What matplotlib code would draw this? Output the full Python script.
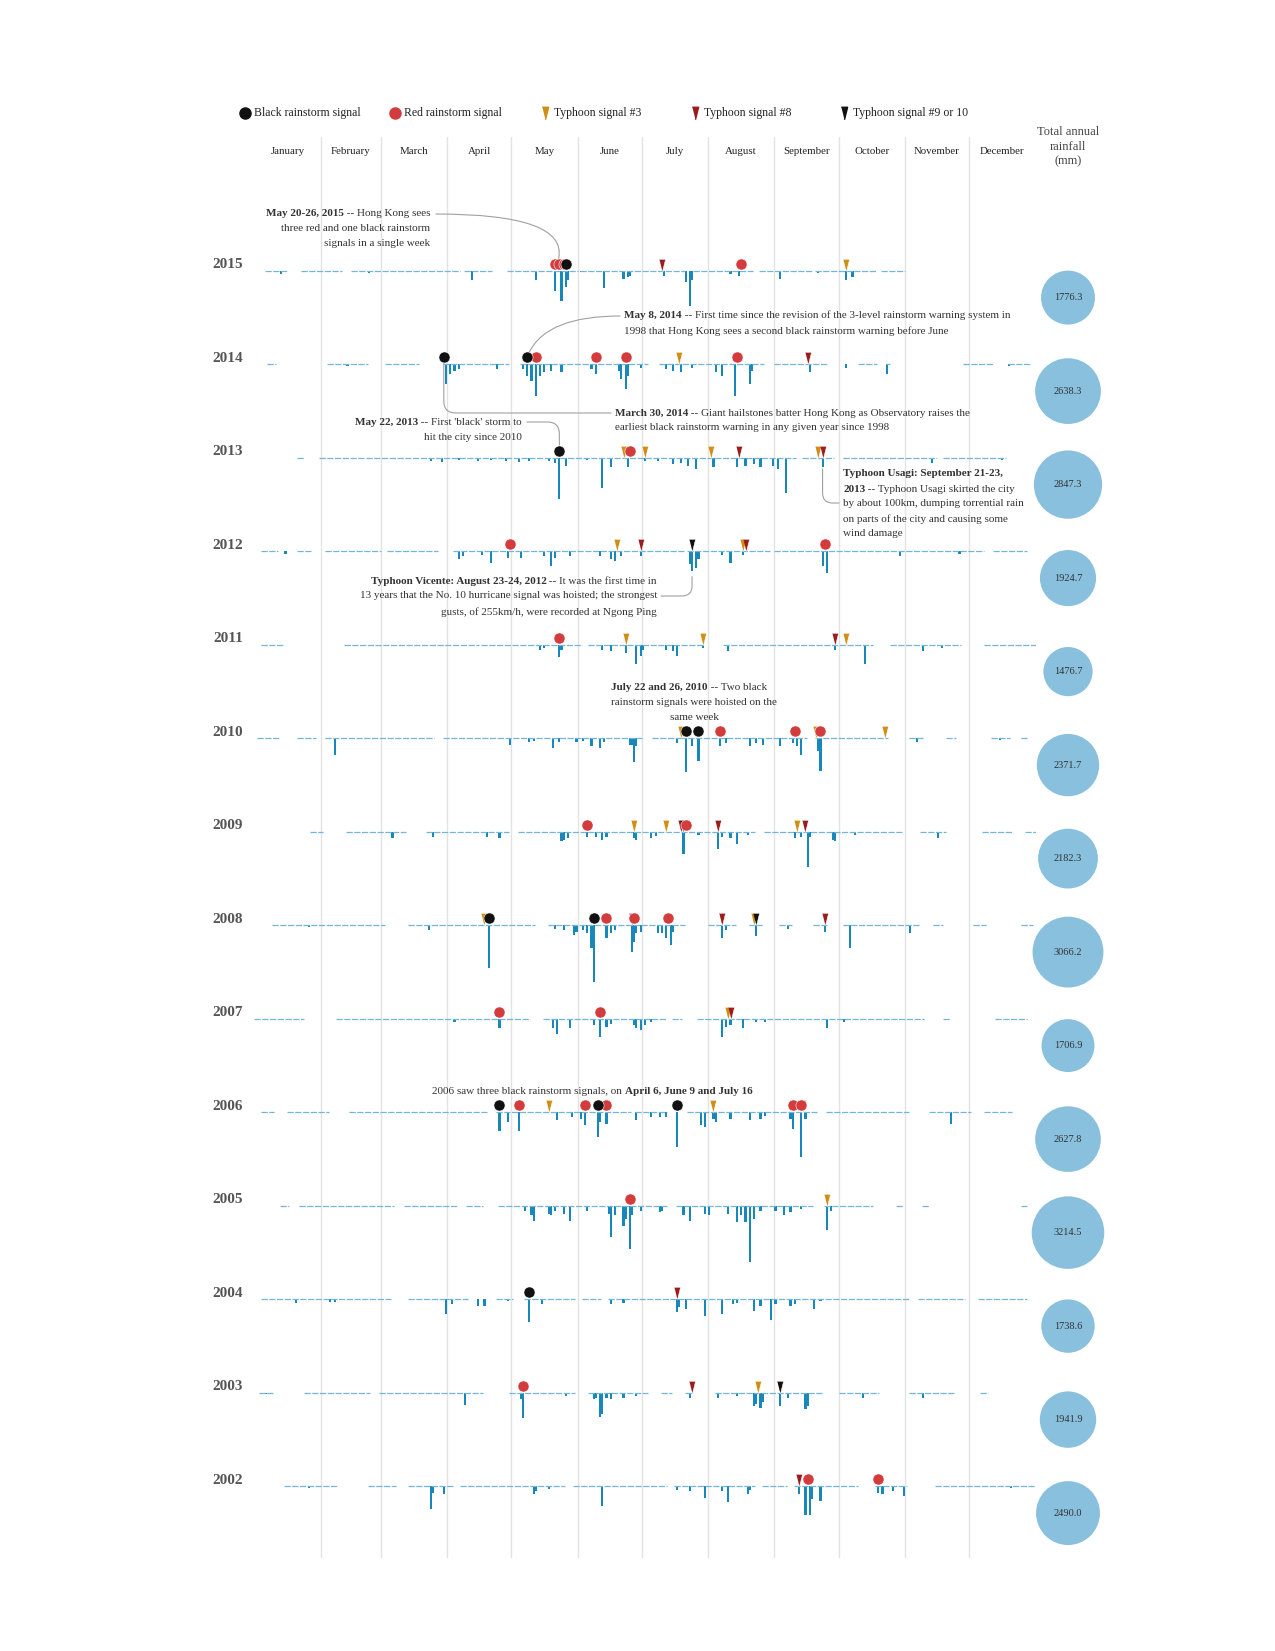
import matplotlib
matplotlib.use('Agg')
import matplotlib.pyplot as plt
import numpy as np
import pandas as pd
from matplotlib.transforms import blended_transform_factory

plt.rcParams['font.family'] = ['Liberation Serif', 'DejaVu Serif']

# Years, top to bottom, and total annual rainfall (mm)
years = [2015, 2014, 2013, 2012, 2011, 2010, 2009, 2008, 2007, 2006, 2005, 2004, 2003, 2002]
annual_total = [1776.3, 2638.3, 2847.3, 1924.7, 1476.7, 2371.7, 2182.3,
                3066.2, 1706.9, 2627.8, 3214.5, 1738.6, 1941.9, 2490.0]

months = ['January', 'February', 'March', 'April', 'May', 'June', 'July',
          'August', 'September', 'October', 'November', 'December']

# Daily rainfall: (day of year, 0 = Jan 1, mm)
daily_rain = {
    2015: [(12, 18), (53, 14), (86, 9), (101, 52), (131, 52), (140, 105), (143, 161), (145, 88),
           (146, 52), (152, 9), (163, 91), (172, 44), (174, 35), (175, 26), (191, 26), (201, 61),
           (203, 184), (204, 52), (222, 18), (226, 26), (245, 44), (263, 14), (276, 49), (279, 35)],
    2014: [(43, 9), (89, 105), (91, 52), (93, 35), (95, 26), (113, 26), (125, 26), (127, 61),
           (129, 91), (131, 166), (133, 61), (135, 44), (138, 35), (143, 44), (157, 26), (159, 52),
           (170, 35), (171, 79), (173, 131), (174, 61), (180, 18), (192, 26), (195, 35), (199, 44),
           (204, 18), (215, 44), (218, 61), (224, 166), (231, 105), (232, 35), (259, 44), (276, 18),
           (295, 52), (352, 9)],
    2013: [(82, 20), (87, 25), (95, 15), (104, 20), (110, 15), (117, 18), (123, 21), (128, 18),
           (137, 18), (140, 26), (142, 219), (145, 44), (155, 14), (162, 158), (166, 52), (174, 52),
           (182, 18), (188, 18), (195, 35), (199, 26), (202, 44), (206, 61), (214, 52), (225, 52),
           (229, 44), (233, 35), (236, 52), (242, 44), (244, 61), (248, 184), (265, 49), (316, 26),
           (349, 14)],
    2012: [(14, 14), (95, 44), (97, 26), (106, 18), (110, 61), (118, 35), (124, 35), (135, 26),
           (138, 79), (140, 35), (147, 26), (161, 26), (166, 44), (168, 52), (171, 26), (180, 26),
           (203, 70), (204, 105), (206, 88), (207, 44), (218, 18), (222, 61), (228, 18), (265, 79),
           (267, 117), (301, 26), (329, 14)],
    2011: [(44, 9), (107, 9), (133, 26), (135, 18), (142, 66), (143, 26), (162, 26), (166, 32),
           (173, 44), (178, 100), (180, 61), (181, 26), (192, 26), (195, 35), (197, 61), (209, 18),
           (221, 35), (271, 26), (285, 100), (312, 35), (321, 18)],
    2010: [(37, 91), (119, 35), (128, 21), (130, 14), (139, 52), (142, 18), (150, 18), (153, 14),
           (157, 44), (161, 52), (163, 18), (175, 35), (176, 35), (177, 126), (178, 44), (197, 26),
           (201, 178), (204, 44), (207, 119), (217, 44), (220, 26), (231, 44), (234, 26), (237, 35),
           (245, 44), (251, 26), (253, 44), (255, 91), (263, 70), (264, 175), (309, 18), (348, 9)],
    2009: [(64, 35), (83, 26), (108, 26), (114, 35), (143, 52), (144, 44), (146, 35), (155, 26),
           (159, 26), (162, 44), (164, 26), (177, 35), (178, 44), (185, 35), (187, 21), (200, 119),
           (207, 18), (216, 91), (218, 26), (222, 35), (225, 66), (230, 18), (252, 35), (255, 26),
           (258, 184), (259, 26), (270, 44), (271, 52), (280, 18), (319, 32)],
    2008: [(25, 9), (81, 26), (109, 228), (140, 18), (144, 26), (149, 52), (150, 35), (153, 26),
           (155, 44), (157, 122), (158, 298), (164, 70), (166, 44), (168, 26), (176, 140), (177, 88),
           (178, 44), (180, 35), (188, 44), (190, 44), (192, 70), (194, 105), (195, 35), (218, 70),
           (220, 26), (234, 56), (249, 18), (266, 35), (278, 119), (306, 44)],
    2007: [(16, 9), (93, 18), (114, 52), (139, 52), (141, 79), (147, 52), (158, 35), (161, 96),
           (164, 44), (166, 26), (177, 35), (178, 52), (180, 58), (182, 35), (185, 18), (218, 96),
           (220, 44), (222, 35), (228, 52), (234, 18), (238, 18), (267, 52), (275, 18)],
    2006: [(114, 101), (118, 52), (123, 101), (141, 44), (148, 26), (152, 35), (154, 70), (160, 131),
           (161, 52), (164, 61), (178, 44), (185, 26), (189, 26), (192, 26), (197, 184), (208, 70),
           (210, 79), (214, 35), (215, 52), (222, 35), (231, 44), (236, 35), (238, 18), (250, 35),
           (251, 88), (255, 236), (257, 35), (325, 61)],
    2005: [(62, 9), (126, 26), (129, 52), (130, 79), (137, 44), (138, 52), (140, 26), (144, 44),
           (147, 79), (155, 26), (165, 44), (166, 166), (168, 52), (172, 105), (173, 70), (175, 228),
           (176, 52), (180, 26), (189, 35), (190, 26), (200, 52), (203, 79), (210, 44), (212, 52),
           (221, 44), (225, 84), (227, 52), (229, 88), (231, 298), (233, 70), (236, 26), (243, 26),
           (247, 52), (250, 35), (255, 18), (267, 131), (269, 26)],
    2004: [(19, 21), (35, 14), (37, 14), (89, 79), (92, 26), (104, 35), (107, 35), (118, 9),
           (128, 119), (134, 26), (166, 26), (172, 18), (197, 70), (198, 44), (201, 52), (210, 88),
           (218, 79), (223, 26), (225, 18), (233, 61), (236, 35), (241, 108), (243, 26), (250, 35),
           (252, 26), (261, 52), (264, 9)],
    2003: [(5, 9), (39, 9), (98, 66), (124, 35), (125, 136), (145, 18), (158, 35), (159, 26),
           (161, 131), (162, 114), (164, 26), (166, 35), (172, 26), (178, 18), (203, 26), (216, 26),
           (225, 18), (233, 70), (234, 61), (236, 79), (237, 52), (245, 70), (249, 26), (257, 88),
           (258, 70), (263, 9), (284, 26), (312, 26)],
    2002: [(25, 9), (82, 122), (83, 35), (88, 44), (130, 44), (131, 26), (137, 14), (162, 105),
           (197, 18), (203, 26), (210, 61), (218, 26), (221, 84), (230, 44), (231, 18), (254, 44),
           (257, 154), (259, 154), (260, 70), (264, 79), (291, 35), (293, 44), (298, 26), (303, 52),
           (353, 9)],
}

# Spells of days with only light rain (start day, end day)
wet_spells = {
    2015: [(5, 14), (22, 40), (45, 95), (98, 110), (118, 150), (152, 200), (205, 232), (236, 260), (262, 290), (293, 303)],
    2014: [(6, 9), (34, 52), (61, 76), (88, 118), (124, 183), (189, 237), (243, 267), (282, 290), (295, 296), (331, 344), (352, 362)],
    2013: [(20, 22), (30, 50), (52, 252), (256, 270), (275, 318), (322, 350)],
    2012: [(3, 10), (20, 26), (33, 58), (62, 85), (93, 200), (202, 240), (243, 340), (345, 360)],
    2011: [(3, 13), (42, 104), (106, 152), (156, 209), (219, 288), (297, 329), (341, 364)],
    2010: [(1, 11), (20, 28), (33, 83), (88, 180), (186, 199), (199, 257), (262, 295), (306, 312), (323, 327), (344, 352), (358, 360)],
    2009: [(26, 31), (43, 70), (80, 118), (123, 233), (238, 302), (311, 322), (340, 353), (360, 365)],
    2008: [(8, 60), (72, 130), (137, 200), (212, 224), (231, 236), (245, 250), (261, 267), (275, 310), (317, 321), (336, 341), (358, 363)],
    2007: [(0, 22), (38, 128), (135, 192), (195, 199), (207, 312), (322, 324), (346, 360)],
    2006: [(3, 8), (15, 34), (44, 108), (113, 175), (178, 192), (202, 262), (267, 305), (315, 334), (341, 353)],
    2005: [(12, 15), (21, 64), (70, 94), (99, 106), (114, 192), (197, 260), (266, 288), (300, 302), (312, 314), (358, 360)],
    2004: [(3, 63), (72, 99), (113, 120), (126, 149), (153, 161), (165, 305), (310, 331), (338, 360)],
    2003: [(2, 8), (23, 53), (58, 106), (119, 149), (156, 183), (190, 194), (201, 204), (215, 264), (273, 291), (306, 326), (339, 342)],
    2002: [(14, 38), (53, 65), (72, 92), (96, 144), (149, 192), (196, 233), (237, 248), (252, 281), (290, 304), (318, 365)],
}

# Warning signals (day of year)
black_rain = {2015: [145], 2014: [88, 127], 2013: [142], 2010: [201, 207], 2008: [109, 158],
              2006: [114, 160, 197], 2004: [128]}
red_rain = {2015: [140, 142, 144, 227], 2014: [131, 159, 173, 225], 2013: [175], 2012: [119, 266],
            2011: [142], 2010: [217, 252, 264], 2009: [155, 201], 2008: [164, 177, 193],
            2007: [114, 161], 2006: [123, 154, 164, 251, 255], 2005: [175], 2003: [125],
            2002: [258, 291]}
typhoon3 = {2015: [276], 2014: [198], 2013: [172, 182, 213, 263], 2012: [169, 228],
            2011: [173, 209, 276], 2010: [199, 262, 294], 2009: [177, 192, 253],
            2008: [107, 218, 233], 2007: [221], 2006: [137, 214, 256], 2005: [267],
            2003: [235, 245]}
typhoon8 = {2015: [190], 2014: [258], 2013: [226, 265], 2012: [180, 229], 2011: [271],
            2009: [199, 216, 257], 2008: [176, 218, 266], 2007: [222], 2004: [197],
            2003: [204], 2002: [254]}
typhoon9 = {2012: [204], 2009: [200], 2008: [234], 2003: [245]}

legend_labels = ['Black rainstorm signal', 'Red rainstorm signal', 'Typhoon signal #3',
                 'Typhoon signal #8', 'Typhoon signal #9 or 10']

# Colours
BAR = '#1787bc'
BASE = '#74b5da'
RED = '#d23c3c'
ORANGE = '#d08e14'
DARKRED = '#9b1c1c'
BLACK = '#111111'
CIRCLE = '#88c0de'
GRID = '#e3e3e3'
TEXT = '#333333'

# Layout in pixels
W, H = 1275, 1651
X0 = 254.4           # Jan 1
AXW = 365 * 2.14     # 2.14 px per day
MM = 0.19            # px per mm of rain
ROW0, ROW = 270.6, 93.5
ABOVE, BELOW = 210, 320
DOT_Y, TRI_Y = 7 / MM, 6 / MM
TRI = [(-1, 2), (1, 2), (0, -2)]
NOTE = dict(fontsize=8, color=TEXT)

fig = plt.figure(figsize=(W / 100, H / 100), dpi=100, facecolor='white')


def fig_xy(x, y):
    return x / W, 1 - y / H


# Month grid and labels
bg = fig.add_axes([X0 / W, 1 - 1558 / H, AXW / W, (1558 - 137) / H])
bg.set_xlim(0, 365)
bg.set_ylim(0, 1)
bg.axis('off')
month_start = pd.date_range('2015-01-01', periods=12, freq='MS')
start_day = np.array(month_start.dayofyear - 1)
mid_day = start_day + np.array(month_start.days_in_month) / 2
for d in start_day[1:]:
    bg.axvline(d, color=GRID, lw=1, zorder=0)
trans = blended_transform_factory(bg.transData, fig.transFigure)
for m, name in zip(mid_day, months):
    bg.text(m, 1 - 151 / H, name, transform=trans, ha='center', va='center', fontsize=7.8, color='#222')

fig.text(*fig_xy(1068, 147), 'Total annual\nrainfall\n(mm)', ha='center', va='center',
         fontsize=9, color='#444', linespacing=1.3)

# Legend
lax = fig.add_axes([0, 1 - 123 / H, 1, 20 / H])
lax.set_xlim(0, W)
lax.set_ylim(0, 1)
lax.axis('off')
legend_x = [245, 395, 545, 695, 844]
legend_mk = [('o', BLACK, 8), ('o', RED, 8), (TRI, ORANGE, 9), (TRI, DARKRED, 9), (TRI, BLACK, 9)]
for x, (mk, col, ms), lab in zip(legend_x, legend_mk, legend_labels):
    lax.plot(x, 0.5, marker=mk, color=col, ms=ms, ls='none')
    lax.text(x + 9, 0.5, lab, ha='left', va='center', fontsize=8.5, color='#222')

# One axes per year
row_axes = {}
for i, yr in enumerate(years):
    base = ROW0 + i * ROW
    ax = fig.add_axes([X0 / W, 1 - (base + BELOW * MM) / H, AXW / W, (ABOVE + BELOW) * MM / H])
    ax.set_xlim(0, 365)
    ax.set_ylim(-BELOW, ABOVE)
    ax.axis('off')
    row_axes[yr] = ax

    s = np.array(wet_spells[yr])
    ax.hlines(np.zeros(len(s)), s[:, 0], s[:, 1] + 1, color=BASE, lw=0.9, linestyles=(0, (5, 1.2)))
    d = np.array(daily_rain[yr])
    ax.bar(d[:, 0] + 0.5, -d[:, 1], width=1.0, color=BAR, linewidth=0)

    for sig, mk, col, yoff, ms in [(typhoon3, TRI, ORANGE, TRI_Y, 9),
                                   (typhoon8, TRI, DARKRED, TRI_Y, 9),
                                   (typhoon9, TRI, BLACK, TRI_Y, 9),
                                   (red_rain, 'o', RED, DOT_Y, 8),
                                   (black_rain, 'o', BLACK, DOT_Y, 8)]:
        days = np.array(sig.get(yr, []))
        if len(days):
            ax.plot(days + 0.5, np.full(len(days), yoff), ls='none', marker=mk, ms=ms,
                    color=col, mec='white', mew=0.4, clip_on=False)

    fig.text(*fig_xy(228, base - 6), str(yr), ha='center', va='center',
             fontsize=11, fontweight='bold', color='#555')

# Annual totals as circles, area proportional to rainfall
cax = fig.add_axes([(1068 - 50) / W, 1 - (ROW0 + 27 + 13.5 * ROW) / H, 100 / W, 14 * ROW / H])
cax.set_xlim(-1, 1)
cax.set_ylim(min(years) - 0.5, max(years) + 0.5)
cax.axis('off')
sizes = (2 * 0.64 * np.sqrt(annual_total) * 0.72) ** 2
cax.scatter(np.zeros(len(years)), years, s=sizes, color=CIRCLE, linewidth=0, clip_on=False)
for yr, t in zip(years, annual_total):
    cax.text(0, yr, f'{t:.1f}', ha='center', va='center', fontsize=7.5, color='#333')


# Notes: each line is a list of (text, weight) pieces
def note_line(x, y, parts, ha='left'):
    if ha == 'right':
        parts = parts[::-1]
    prev = None
    for txt, w in parts:
        if prev is None:
            prev = fig.text(*fig_xy(x, y), txt, ha=ha, va='center', fontweight=w, **NOTE)
        else:
            prev = bg.annotate(txt, xy=(1 if ha == 'left' else 0, 0), xycoords=prev,
                               ha=ha, va='bottom', fontweight=w, **NOTE)


B, N = 'bold', 'normal'
note_line(430, 214, [('May 20-26, 2015', B), (' -- Hong Kong sees', N)], 'right')
note_line(430, 228.5, [('three red and one black rainstorm', N)], 'right')
note_line(430, 243, [('signals in a single week', N)], 'right')

note_line(624, 316, [('May 8, 2014', B), (' -- First time since the revision of the 3-level rainstorm warning system in', N)])
note_line(624, 331.5, [('1998 that Hong Kong sees a second black rainstorm warning before June', N)])

note_line(615, 413, [('March 30, 2014', B), (' -- Giant hailstones batter Hong Kong as Observatory raises the', N)])
note_line(615, 428, [('earliest black rainstorm warning in any given year since 1998', N)])

note_line(522, 422, [('May 22, 2013', B), (" -- First 'black' storm to", N)], 'right')
note_line(522, 437.5, [('hit the city since 2010', N)], 'right')

note_line(843, 474, [('Typhoon Usagi: September 21-23,', B)])
note_line(843, 489, [('2013', B), (' -- Typhoon Usagi skirted the city', N)])
note_line(843, 504, [('by about 100km, dumping torrential rain', N)])
note_line(843, 519, [('on parts of the city and causing some', N)])
note_line(843, 534, [('wind damage', N)])

note_line(657, 581, [('Typhoon Vicente: August 23-24, 2012', B), (' -- It was the first time in', N)], 'right')
note_line(657, 596, [('13 years that the No. 10 hurricane signal was hoisted; the strongest', N)], 'right')
note_line(657, 612, [('gusts, of 255km/h, were recorded at Ngong Ping', N)], 'right')

note_line(611, 687.5, [('July 22 and 26, 2010', B), (' -- Two black', N)])
fig.text(*fig_xy(694, 702), 'rainstorm signals were hoisted on the', ha='center', va='center', **NOTE)
fig.text(*fig_xy(694, 717), 'same week', ha='center', va='center', **NOTE)

note_line(432, 1091, [('2006 saw three black rainstorm signals, on ', N), ('April 6, June 9 and July 16', B)])

# Connector lines from the notes to the signals
LINE = dict(arrowstyle='-', color='#a0a0a0', lw=0.8, shrinkA=0, shrinkB=4)
connectors = [
    (2015, 141, DOT_Y, (436, 214), 'angle3,angleA=0,angleB=70'),
    (2014, 127, DOT_Y, (620, 316), 'angle3,angleA=0,angleB=70'),
    (2014, 88, DOT_Y, (611, 413), 'angle,angleA=0,angleB=90,rad=12'),
    (2013, 142, DOT_Y, (527, 422), 'angle,angleA=0,angleB=90,rad=12'),
    (2013, 265, -30, (839, 503), 'angle,angleA=0,angleB=90,rad=10'),
    (2012, 204, -105, (661, 596), 'angle,angleA=0,angleB=90,rad=10'),
]
for yr, day, yv, (tx, ty), cs in connectors:
    row_axes[yr].annotate('', xy=(day + 0.5, yv), xytext=fig_xy(tx, ty), textcoords='figure fraction',
                          arrowprops=dict(connectionstyle=cs, **LINE), annotation_clip=False)

fig.savefig('out.png', dpi=100, facecolor='white')
